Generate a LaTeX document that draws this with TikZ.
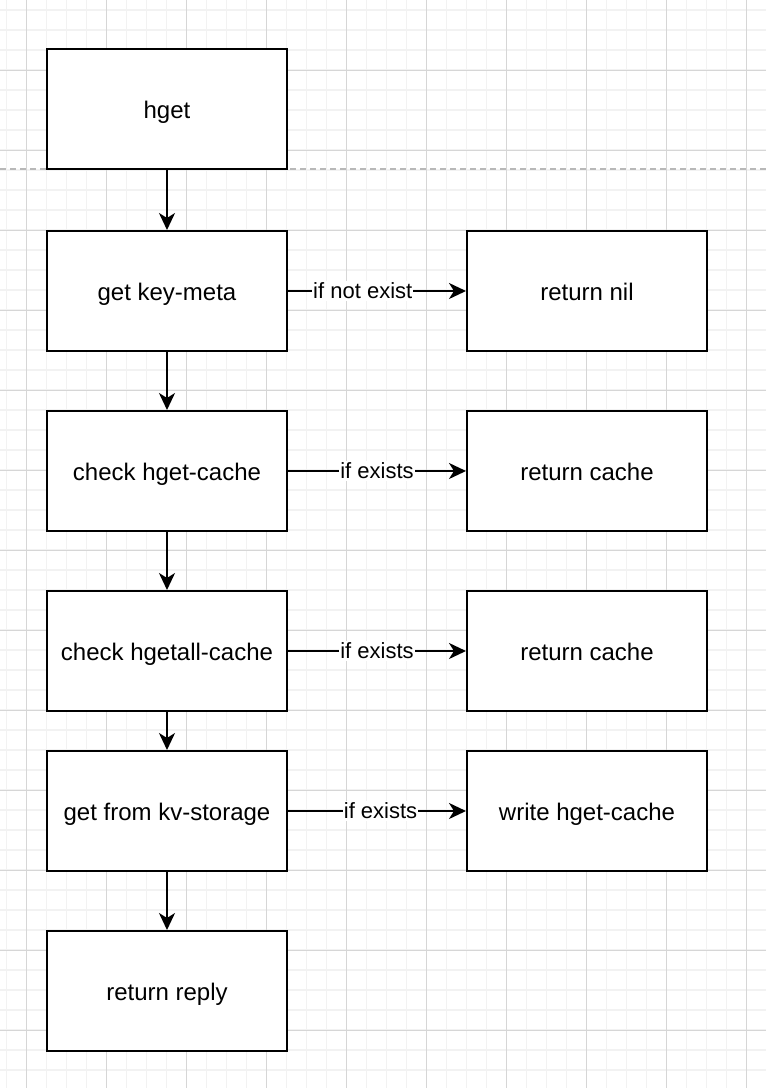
\documentclass[tikz,border=0pt]{standalone}
\usepackage{fontspec}
\setmainfont{Liberation Sans}
\usetikzlibrary{arrows.meta}
\definecolor{gridminor}{HTML}{F2F2F2}
\definecolor{gridmajor}{HTML}{D6D6D6}
\definecolor{sepline}{HTML}{B8B8B8}
\tikzset{
  stepbox/.style={draw=black, line width=2pt, fill=white, minimum width=240pt,
    minimum height=120pt, inner sep=0pt, text height=20pt, text depth=1.4pt,
    font=\fontsize{24pt}{28pt}\selectfont},
  flow/.style={draw=black, line width=2pt,
    -{Stealth[length=17pt,width=16pt,inset=5pt]}},
  cond/.style={fill=white, inner sep=1pt, text height=16pt, text depth=1.4pt,
    font=\fontsize{22pt}{26pt}\selectfont}
}
\begin{document}
\begin{tikzpicture}[x=1pt,y=-1pt]
\useasboundingbox (0,0) rectangle (766,1088);
\fill[white] (0,0) rectangle (766,1088);
% background grid: light lines every 20, darker every 80
\foreach \gx in {6.67,26.67,...,766} {\draw[gridminor, line width=1.5pt] (\gx,0) -- (\gx,1088);}
\foreach \gy in {10,30,...,1088} {\draw[gridminor, line width=1.5pt] (0,\gy) -- (766,\gy);}
\foreach \gx in {26.67,106.67,...,766} {\draw[gridmajor, line width=1pt] (\gx,0) -- (\gx,1088);}
\foreach \gy in {70,150,...,1088} {\draw[gridmajor, line width=1pt] (0,\gy) -- (766,\gy);}
% separator below the entry command
\coordinate (sepL) at (0,169);
\coordinate (sepR) at (766,169);
\draw[sepline, line width=2pt, dash pattern=on 6pt off 4pt] (sepL) -- (sepR);

% main column
\node[stepbox] (hget)    at (167,109) {hget};
\node[stepbox] (meta)    at (167,291) {get key-meta};
\node[stepbox] (hcache)  at (167,471) {check hget-cache};
\node[stepbox] (hacache) at (167,651) {check hgetall-cache};
\node[stepbox] (kv)      at (167,811) {get from kv-storage};
\node[stepbox] (reply)   at (167,991) {return reply};

% side results
\node[stepbox] (nil)     at (587,291) {return nil};
\node[stepbox] (rc1)     at (587,471) {return cache};
\node[stepbox] (rc2)     at (587,651) {return cache};
\node[stepbox] (write)   at (587,811) {write hget-cache};

\draw[flow] (hget) -- (meta);
\draw[flow] (meta) -- (hcache);
\draw[flow] (hcache) -- (hacache);
\draw[flow] (hacache) -- (kv);
\draw[flow] (kv) -- (reply);

\draw[flow] (meta) -- node[cond, pos=0.42] {if not exist} (nil);
\draw[flow] (hcache) -- node[cond, pos=0.5] {if exists} (rc1);
\draw[flow] (hacache) -- node[cond, pos=0.5] {if exists} (rc2);
\draw[flow] (kv) -- node[cond, pos=0.52] {if exists} (write);
\end{tikzpicture}
\end{document}
